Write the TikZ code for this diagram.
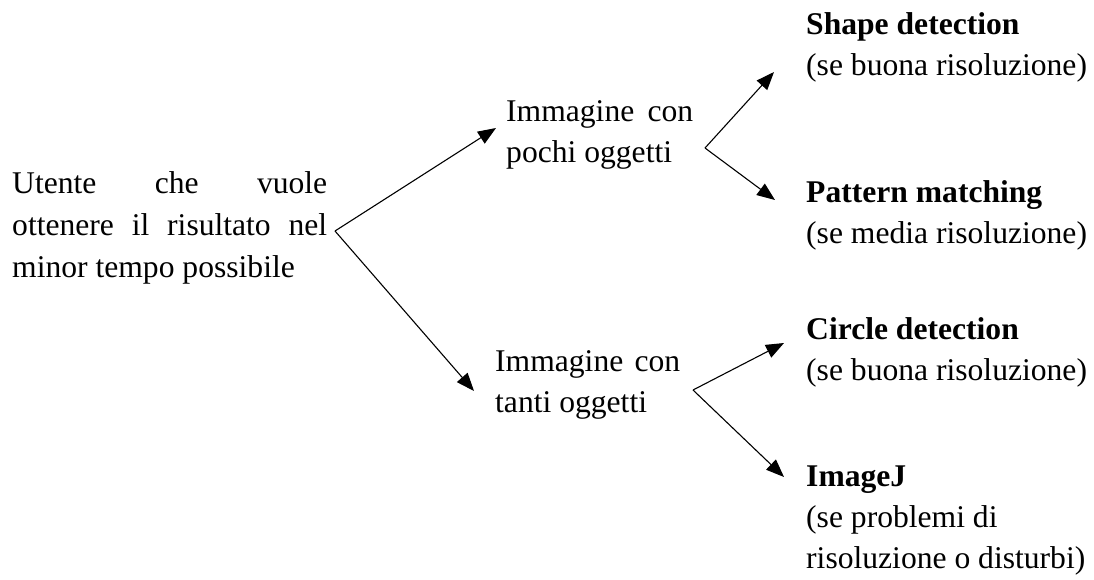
\documentclass[tikz,border=0pt]{standalone}
\usepackage{fontspec}
\setmainfont{Liberation Serif}
\usetikzlibrary{arrows.meta}
\begin{document}
\begin{tikzpicture}[x=1pt,y=-1pt,
  txt/.style={anchor=north west, inner sep=0pt, align=left,
              font=\fontsize{31.6}{41}\selectfont},
  branch/.style={line width=1.1pt, -{Triangle[length=18pt,width=14pt]}},
]
\useasboundingbox (0,0) rectangle (1094,579);

% starting question (justified paragraph)
\node[txt, font=\fontsize{31.6}{42}\selectfont] (user) at (12,164) {\strut\makebox[315pt][s]{Utente che vuole}\\
  \makebox[315pt][s]{ottenere il risultato nel}\\
  minor tempo possibile};

% image types
\node[txt] (few)  at (506,93)  {\strut\makebox[187pt][s]{Immagine con}\\pochi oggetti};
\node[txt] (many) at (495,343) {\strut\makebox[185pt][s]{Immagine con}\\tanti oggetti};

% methods
\node[txt] (shape)   at (806,6)   {\strut\textbf{Shape detection}\\(se buona risoluzione)};
\node[txt] (pattern) at (806,174) {\strut\textbf{Pattern matching}\\(se media risoluzione)};
\node[txt] (circle)  at (806,311) {\strut\textbf{Circle detection}\\(se buona risoluzione)};
\node[txt] (imagej)  at (806,458) {\strut\textbf{ImageJ}\\(se problemi di\\risoluzione o disturbi)};

% branching points and arrow tips
\coordinate (fork0)     at (335,231);
\coordinate (toFew)     at (496,128);
\coordinate (toMany)    at (474,391);
\coordinate (fork1)     at (705,148);
\coordinate (toShape)   at (774,72);
\coordinate (toPattern) at (775,200);
\coordinate (fork2)     at (693,390);
\coordinate (toCircle)  at (784,343);
\coordinate (toImageJ)  at (784,477);

\draw[branch] (fork0) -- (toFew);
\draw[branch] (fork0) -- (toMany);
\draw[branch] (fork1) -- (toShape);
\draw[branch] (fork1) -- (toPattern);
\draw[branch] (fork2) -- (toCircle);
\draw[branch] (fork2) -- (toImageJ);
\end{tikzpicture}
\end{document}
